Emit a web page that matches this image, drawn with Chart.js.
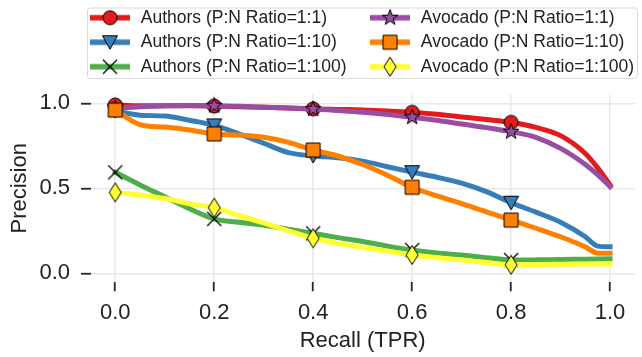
<!DOCTYPE html>
<html>
<head>
<meta charset="utf-8">
<script src="https://cdn.jsdelivr.net/npm/chart.js@4"></script>
<style>
  html, body { margin: 0; padding: 0; background: #fff; }
  #wrap { width: 642px; height: 357px; }
</style>
</head>
<body>
<div id="wrap"><canvas id="prChart" width="642" height="357"></canvas></div>
<script>
// recall grid shared by all curves
const recall = [0, 0.05, 0.1, 0.15, 0.2, 0.25, 0.3, 0.35, 0.4, 0.45, 0.5,
  0.55, 0.6, 0.65, 0.7, 0.75, 0.8, 0.85, 0.9, 0.95, 0.975, 1.0];

const authorsRatio1 = [0.99, 0.985, 0.985, 0.985, 0.984, 0.98, 0.977, 0.972, 0.967, 0.964, 0.961,
  0.955, 0.947, 0.935, 0.92, 0.905, 0.888, 0.858, 0.81, 0.705, 0.62, 0.52];
const authorsRatio10 = [0.955, 0.93, 0.925, 0.90, 0.87, 0.82, 0.765, 0.71, 0.69, 0.68, 0.66,
  0.627, 0.595, 0.565, 0.53, 0.48, 0.415, 0.36, 0.30, 0.215, 0.16, 0.156];
const authorsRatio100 = [0.594, 0.52, 0.45, 0.38, 0.32, 0.30, 0.283, 0.26, 0.235, 0.21, 0.187,
  0.16, 0.137, 0.12, 0.107, 0.092, 0.078, 0.079, 0.081, 0.083, 0.084, 0.085];
const avocadoRatio1 = [0.97, 0.98, 0.986, 0.987, 0.986, 0.982, 0.977, 0.972, 0.966, 0.957, 0.947,
  0.934, 0.918, 0.9, 0.878, 0.857, 0.833, 0.80, 0.735, 0.64, 0.58, 0.51];
const avocadoRatio10 = [0.96, 0.875, 0.86, 0.843, 0.82, 0.813, 0.80, 0.77, 0.725, 0.69, 0.64,
  0.577, 0.506, 0.455, 0.41, 0.362, 0.313, 0.265, 0.215, 0.155, 0.118, 0.118];
const avocadoRatio100 = [0.476, 0.46, 0.44, 0.41, 0.386, 0.34, 0.296, 0.25, 0.206, 0.175, 0.152,
  0.13, 0.108, 0.092, 0.078, 0.063, 0.05, 0.052, 0.053, 0.054, 0.055, 0.055];

const seriesNames = [
  'Authors (P:N Ratio=1:1)', 'Authors (P:N Ratio=1:10)', 'Authors (P:N Ratio=1:100)',
  'Avocado (P:N Ratio=1:1)', 'Avocado (P:N Ratio=1:10)', 'Avocado (P:N Ratio=1:100)',
];
const seriesValues = [authorsRatio1, authorsRatio10, authorsRatio100,
  avocadoRatio1, avocadoRatio10, avocadoRatio100];

const markerRecall = [0, 0.2, 0.4, 0.6, 0.8];
const xTicks = [0, 0.2, 0.4, 0.6, 0.8, 1.0];
const yTicks = [0, 0.5, 1.0];

const colors = ['#e41a1c', '#377eb8', '#4daf4a', '#984ea3', '#ff7f00', '#ffff33'];
const shapes = ['circle', 'triangleDown', 'x', 'star', 'square', 'thinDiamond'];
// legend fills column by column (two columns, three rows)
const legendRank = [0, 2, 4, 1, 3, 5];

const fontFamily = '"Liberation Sans", Arial, sans-serif';
const textColor = '#222222';
const legendFontSize = 17.5;
const legendPad = 7;
const handleBox = 44;
const legendLeft = 86.5;
const legendCol2 = 366;
const legendRight = 641;

/**
 * Draw one matplotlib-like marker centred on (0, 0).
 */
function drawShape(g, shape, color) {
  g.fillStyle = color;
  g.strokeStyle = '#000';
  g.lineWidth = 1;
  g.beginPath();
  if (shape === 'circle') {
    g.arc(0, 0, 7, 0, Math.PI * 2);
  } else if (shape === 'square') {
    g.rect(-7, -7, 14, 14);
  } else if (shape === 'triangleDown') {
    g.moveTo(-7.5, -6.5); g.lineTo(7.5, -6.5); g.lineTo(0, 7); g.closePath();
  } else if (shape === 'thinDiamond') {
    g.moveTo(0, -9.5); g.lineTo(6, 0); g.lineTo(0, 9.5); g.lineTo(-6, 0); g.closePath();
  } else if (shape === 'star') {
    for (let k = 0; k < 10; k++) {
      const r = k % 2 ? 3.3 : 8.2;
      const a = -Math.PI / 2 + k * Math.PI / 5;
      g.lineTo(r * Math.cos(a), r * Math.sin(a));
    }
    g.closePath();
  } else if (shape === 'x') {
    g.moveTo(-7, -7); g.lineTo(7, 7);
    g.moveTo(7, -7); g.lineTo(-7, 7);
    g.lineWidth = 1.3;
    g.stroke();
    return;
  }
  g.fill();
  g.stroke();
}

function makeMarker(shape, color) {
  const c = document.createElement('canvas');
  c.width = 24; c.height = 24;
  const g = c.getContext('2d');
  g.translate(12, 12);
  drawShape(g, shape, color);
  return c;
}

// legend handle: thick line with the marker in the middle
function makeHandle(shape, color) {
  const c = document.createElement('canvas');
  c.width = 40; c.height = 24;
  const g = c.getContext('2d');
  g.fillStyle = color;
  g.fillRect(0, 9.25, 40, 5.5);
  g.translate(20, 12);
  drawShape(g, shape, color);
  return c;
}

const markers = shapes.map((s, i) => makeMarker(s, colors[i]));
const handles = shapes.map((s, i) => makeHandle(s, colors[i]));

// pad legend texts with spaces so both legend columns line up
const measureCtx = document.createElement('canvas').getContext('2d');
measureCtx.font = legendFontSize + 'px ' + fontFamily;
function padTo(text, width) {
  let s = text;
  while (measureCtx.measureText(s + ' ').width <= width + 2) s += ' ';
  return s;
}
const col1Width = legendCol2 - legendLeft - legendPad - handleBox - legendFontSize / 2;
const col2Width = legendRight - legendCol2 - handleBox - legendFontSize / 2 - legendPad;
const legendTexts = seriesNames.map((n, i) => padTo(n, i < 3 ? col1Width : col2Width));

const datasets = seriesValues.map((vals, i) => ({
  label: seriesNames[i],
  data: recall.map((r, k) => ({ x: r, y: vals[k] })),
  borderColor: colors[i],
  backgroundColor: colors[i],
  borderWidth: 5,
  borderCapStyle: 'square',
  cubicInterpolationMode: 'monotone',
  fill: false,
  pointStyle: markers[i],
  pointBorderWidth: 0,
  pointRadius: (ctx) => (ctx.raw && markerRecall.includes(ctx.raw.x) ? 7 : 0),
  pointHoverRadius: (ctx) => (ctx.raw && markerRecall.includes(ctx.raw.x) ? 7 : 0),
  order: 5 - i,
}));

// fixed legend block: height pushes the plot down, right edge reaches the frame
const legendBlock = {
  id: 'legendBlock',
  afterInit(chart) {
    const legend = chart.legend;
    const fit = legend.fit;
    legend.fit = function () {
      fit.call(this);
      this.height = 92.8;
    };
  },
  afterLayout(chart) {
    chart.legend.right = legendRight;
  },
};

// light rounded frame around the legend
const legendFrame = {
  id: 'legendFrame',
  beforeDraw(chart) {
    const boxes = chart.legend && chart.legend.legendHitBoxes;
    if (!boxes || !boxes.length) return;
    const left = Math.min(...boxes.map(b => b.left)) - 1;
    const top = Math.min(...boxes.map(b => b.top)) - 1.5;
    const bottom = Math.max(...boxes.map(b => b.top + b.height)) + 2.5;
    const right = 637;
    const ctx = chart.ctx;
    ctx.save();
    ctx.strokeStyle = '#d9d9d9';
    ctx.lineWidth = 1;
    ctx.beginPath();
    ctx.roundRect(left + 0.5, top + 0.5, right - left, bottom - top, 3);
    ctx.stroke();
    ctx.restore();
  },
};

Chart.defaults.font.family = fontFamily;
Chart.defaults.color = textColor;

new Chart(document.getElementById('prChart'), {
  type: 'line',
  data: { datasets },
  plugins: [legendBlock, legendFrame],
  options: {
    responsive: false,
    animation: false,
    events: [],
    layout: { autoPadding: false, padding: { top: 2, right: 7.2, bottom: 0, left: 0 } },
    plugins: {
      tooltip: { enabled: false },
      legend: {
        position: 'top',
        align: 'end',
        labels: {
          usePointStyle: true,
          pointStyleWidth: handleBox,
          padding: legendPad,
          color: textColor,
          font: { size: legendFontSize },
          sort: (a, b) => legendRank[a.datasetIndex] - legendRank[b.datasetIndex],
          generateLabels: (chart) => Chart.defaults.plugins.legend.labels.generateLabels(chart)
            .map(item => Object.assign(item, {
              text: legendTexts[item.datasetIndex],
              pointStyle: handles[item.datasetIndex],
            })),
        },
      },
    },
    scales: {
      x: {
        type: 'linear',
        min: -0.05,
        max: 1.05,
        afterBuildTicks: (s) => { s.ticks = xTicks.map(v => ({ value: v })); },
        afterFit: (s) => { s.height = 75.2; },
        border: { display: false },
        grid: { color: '#e8e8e8', lineWidth: 1.5, tickColor: '#262626', tickLength: 9.5, tickWidth: 1.8 },
        ticks: {
          autoSkip: false, maxRotation: 0, padding: 8,
          font: { size: 22 }, color: textColor,
          callback: (v) => Number(v).toFixed(1),
        },
        title: { display: true, text: 'Recall (TPR)', font: { size: 22 }, color: textColor, padding: { top: 0, bottom: 3 } },
      },
      y: {
        type: 'linear',
        min: -0.05,
        max: 1.05,
        afterBuildTicks: (s) => { s.ticks = yTicks.map(v => ({ value: v })); },
        afterFit: (s) => { s.width = 90.5; },
        border: { display: false },
        grid: { color: '#e8e8e8', lineWidth: 1.5, tickColor: '#262626', tickLength: 9.5, tickWidth: 1.8 },
        ticks: {
          padding: 11,
          font: { size: 22 }, color: textColor,
          callback: (v) => Number(v).toFixed(1),
        },
        title: { display: true, text: 'Precision', font: { size: 22 }, color: textColor, padding: { top: 7, bottom: 0 } },
      },
    },
  },
});
</script>
</body>
</html>
